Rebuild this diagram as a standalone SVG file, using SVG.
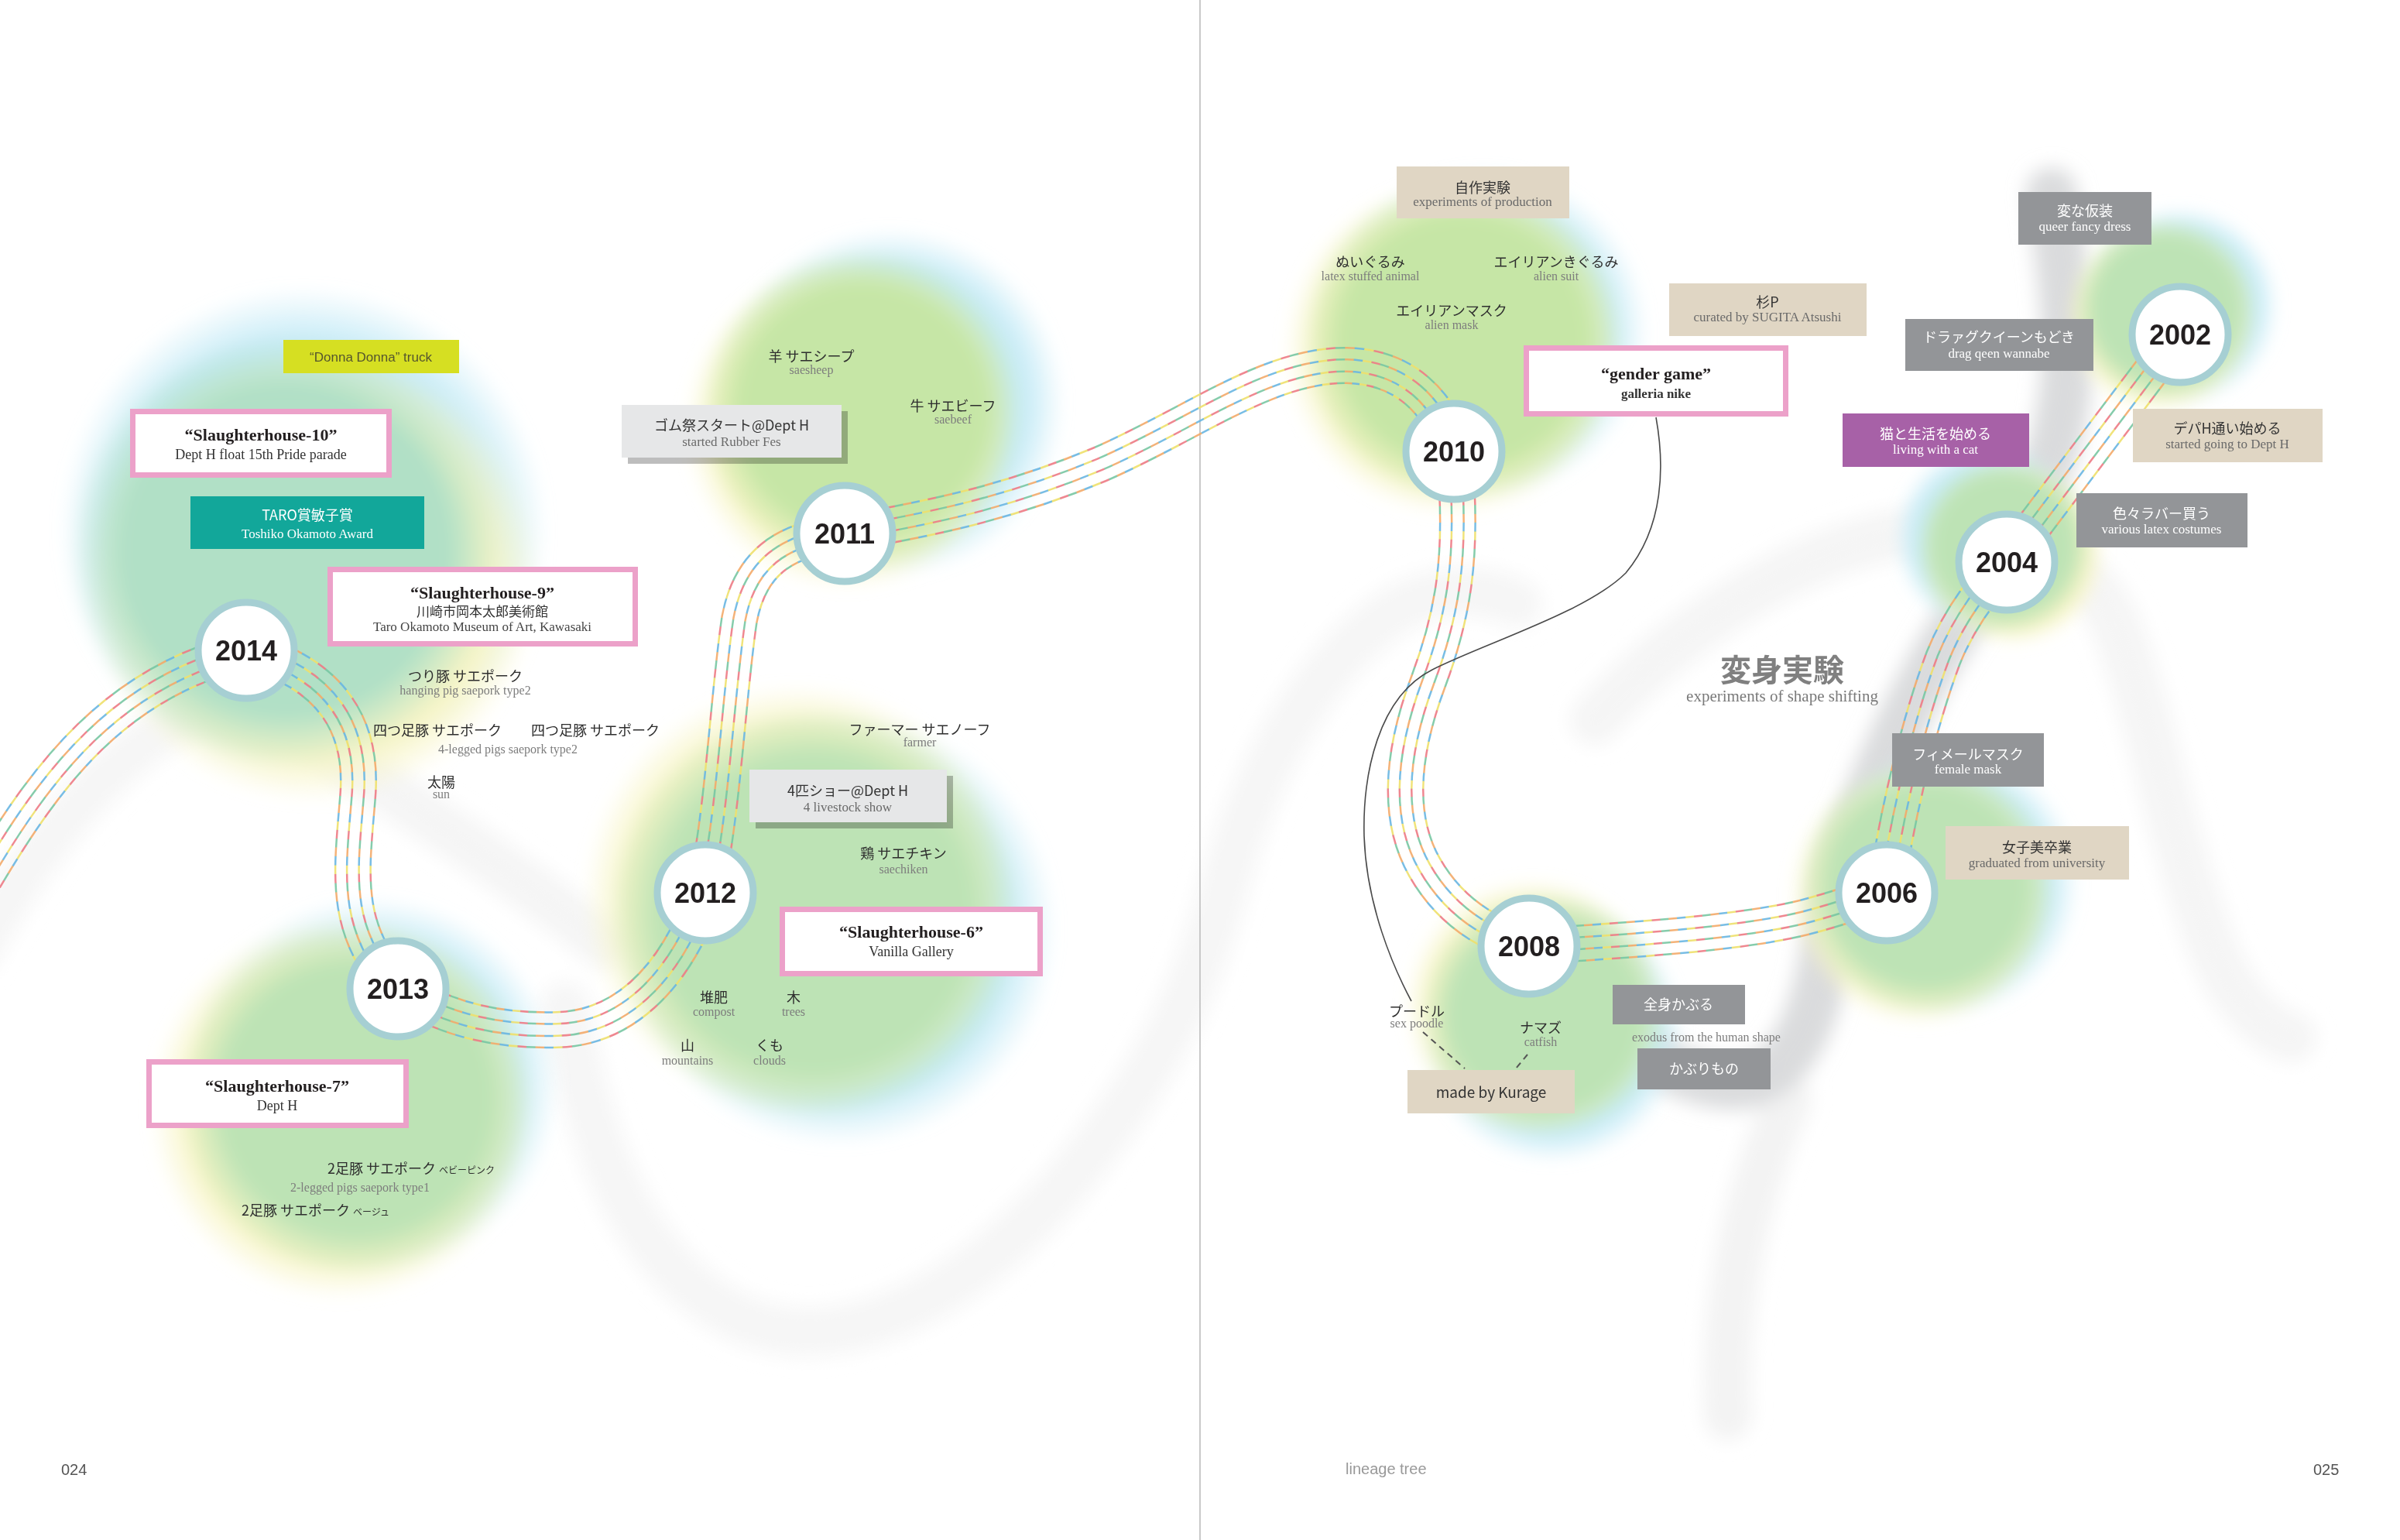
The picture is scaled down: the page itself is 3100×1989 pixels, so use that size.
<svg xmlns="http://www.w3.org/2000/svg" width="3100" height="1989" viewBox="0 0 3100 1989">
<defs>
<style>
.jp{font-family:"Noto Sans CJK JP",sans-serif}
.sf{font-family:"Liberation Serif",serif}
.ss{font-family:"Liberation Sans",Arial,sans-serif}
.c{text-anchor:middle}
.lj{font-size:18px;fill:#2e2e2e}
.le{font-size:16px;fill:#7d7d7d}
.bj{font-size:18px}
.be{font-size:17px}
.tt{font-size:22px;font-weight:bold;fill:#231f20}
.st{font-size:18px;fill:#333}
.yr{font-family:"Liberation Sans",Arial,sans-serif;font-weight:bold;font-size:36px;fill:#231f20;text-anchor:middle}
.ring{fill:#fff;stroke:#a6cfd3;stroke-width:9}
.pink{fill:#fff;stroke:#eca1c9;stroke-width:7}
.lg{fill:#e6e7e8}
.shd{fill:#000;fill-opacity:0.26}
.bg{fill:#e0d6c4}
.gr{fill:#939598}
.dk{fill:#333}
.gy{fill:#6a6a6a}
.wh{fill:#fff}
.sw{fill:none;stroke-linecap:round}
</style>
<radialGradient id="gB"><stop offset="0" stop-color="#c9ecf7"/><stop offset="0.78" stop-color="#c9ecf7"/><stop offset="1" stop-color="#c9ecf7" stop-opacity="0"/></radialGradient>
<radialGradient id="gY"><stop offset="0" stop-color="#f8f5c6"/><stop offset="0.78" stop-color="#f8f5c6"/><stop offset="1" stop-color="#f8f5c6" stop-opacity="0"/></radialGradient>
<radialGradient id="gM"><stop offset="0" stop-color="#b1e0c6"/><stop offset="0.75" stop-color="#b1e0c6"/><stop offset="1" stop-color="#b1e0c6" stop-opacity="0"/></radialGradient>
<radialGradient id="gL"><stop offset="0" stop-color="#c6e6a6"/><stop offset="0.75" stop-color="#c6e6a6"/><stop offset="1" stop-color="#c6e6a6" stop-opacity="0"/></radialGradient>
<radialGradient id="gG"><stop offset="0" stop-color="#bde3b5"/><stop offset="0.75" stop-color="#bde3b5"/><stop offset="1" stop-color="#bde3b5" stop-opacity="0"/></radialGradient>
<filter id="soft" x="-20%" y="-20%" width="140%" height="140%"><feGaussianBlur stdDeviation="9"/></filter>
<filter id="blur" x="-20%" y="-20%" width="140%" height="140%"><feGaussianBlur stdDeviation="12"/></filter>
<path id="route" fill="none" d="M -20,1135 C 60,1000 150,880 318,840 C 430,870 470,940 462,1030 C 455,1120 440,1200 514,1277 C 580,1320 650,1332 720,1330 C 800,1328 870,1270 911,1153 C 935,1040 940,900 955,800 C 968,730 1010,695 1091,689 C 1200,670 1300,650 1420,600 C 1540,548 1640,470 1740,472 C 1815,474 1860,520 1878,583 C 1892,720 1875,800 1845,880 C 1815,960 1800,1050 1840,1120 C 1880,1190 1940,1212 1976,1222 C 2100,1215 2250,1205 2330,1185 C 2380,1172 2410,1160 2436,1153 C 2450,1050 2480,930 2510,850 C 2530,800 2560,760 2592,726 L 2815,431"/>
<mask id="four" maskUnits="userSpaceOnUse" x="-50" y="0" width="3200" height="1989">
<use href="#route" stroke="#fff" stroke-width="48" stroke-linejoin="round"/>
<use href="#route" stroke="#000" stroke-width="43" stroke-linejoin="round"/>
<use href="#route" stroke="#fff" stroke-width="18" stroke-linejoin="round"/>
<use href="#route" stroke="#000" stroke-width="13" stroke-linejoin="round"/>
</mask>
</defs>
<rect x="0" y="0" width="3100" height="1989" fill="#fff"/>

<!-- soft grey swooshes -->
<g id="swooshes" filter="url(#blur)" style="mix-blend-mode:multiply">
<path class="sw" stroke="#f6f6f6" stroke-width="60" d="M -30,1230 C 40,1100 130,990 230,930"/>
<path class="sw" stroke="#f5f5f5" stroke-width="62" d="M 420,960 C 520,1040 660,1120 780,1220"/>
<path class="sw" stroke="#f6f6f6" stroke-width="64" d="M 730,1300 C 760,1450 800,1620 950,1700 C 1100,1770 1280,1650 1400,1500 C 1480,1400 1540,1300 1580,1150 C 1610,1030 1680,870 1800,790 C 1860,755 1920,760 1960,780"/>
<path class="sw" stroke="#f5f5f5" stroke-width="64" d="M 2060,930 C 2150,830 2300,720 2450,690 C 2560,670 2680,700 2730,800 C 2780,920 2800,1080 2860,1230 C 2890,1300 2930,1330 2960,1340"/>
<path class="sw" stroke="#f3f3f3" stroke-width="60" d="M 2232,1830 C 2225,1700 2250,1550 2310,1420"/>
<path class="sw" stroke="#dadbdd" stroke-width="66" d="M 2650,250 C 2670,380 2680,480 2655,570 C 2625,680 2540,780 2490,870 C 2430,980 2380,1100 2360,1220 C 2345,1320 2310,1400 2240,1400 C 2160,1400 2080,1330 2010,1270"/>
</g>

<!-- colour clouds -->
<g id="clouds" filter="url(#soft)">
<g id="blob-2014"><circle cx="392" cy="685" r="315" fill="url(#gB)"/><circle cx="405" cy="745" r="292" fill="url(#gY)"/><circle cx="370" cy="712" r="278" fill="url(#gM)"/></g>
<g id="blob-2013"><circle cx="480" cy="1400" r="242" fill="url(#gB)"/><circle cx="440" cy="1432" r="247" fill="url(#gY)"/><circle cx="460" cy="1420" r="228" fill="url(#gG)"/></g>
<g id="blob-2011"><circle cx="1150" cy="520" r="225" fill="url(#gB)"/><circle cx="1095" cy="550" r="212" fill="url(#gY)"/><circle cx="1114" cy="530" r="208" fill="url(#gL)"/></g>
<g id="blob-2012"><circle cx="1085" cy="1200" r="280" fill="url(#gB)"/><circle cx="1030" cy="1160" r="277" fill="url(#gY)"/><circle cx="1052" cy="1180" r="266" fill="url(#gG)"/></g>
<g id="blob-2010"><circle cx="1915" cy="430" r="214" fill="url(#gB)"/><circle cx="1875" cy="450" r="217" fill="url(#gY)"/><circle cx="1890" cy="440" r="207" fill="url(#gL)"/></g>
<g id="blob-2008"><circle cx="2005" cy="1332" r="170" fill="url(#gB)"/><circle cx="1980" cy="1300" r="166" fill="url(#gY)"/><circle cx="1995" cy="1310" r="159" fill="url(#gG)"/></g>
<g id="blob-2006"><circle cx="2512" cy="1140" r="174" fill="url(#gB)"/><circle cx="2480" cy="1155" r="170" fill="url(#gY)"/><circle cx="2490" cy="1145" r="165" fill="url(#gG)"/></g>
<g id="blob-2004"><circle cx="2570" cy="695" r="124" fill="url(#gB)"/><circle cx="2600" cy="715" r="120" fill="url(#gY)"/><circle cx="2588" cy="705" r="115" fill="url(#gG)"/></g>
<g id="blob-2002"><circle cx="2815" cy="395" r="129" fill="url(#gB)"/><circle cx="2790" cy="410" r="124" fill="url(#gY)"/><circle cx="2797" cy="400" r="119" fill="url(#gG)"/></g>
</g>

<line x1="1550" y1="0" x2="1550" y2="1989" stroke="#c9c9c9" stroke-width="2"/>

<!-- connectors -->
<g id="connectors">
<g id="timeline" mask="url(#four)" fill="none" opacity="0.9">
<use href="#route" stroke="#78c7a3" stroke-width="60"/>
<use href="#route" stroke="#ee7b85" stroke-width="60" stroke-dasharray="11 44"/>
<use href="#route" stroke="#efe06c" stroke-width="60" stroke-dasharray="11 44" stroke-dashoffset="11"/>
<use href="#route" stroke="#6ab6e2" stroke-width="60" stroke-dasharray="11 44" stroke-dashoffset="22"/>
<use href="#route" stroke="#f3aa6a" stroke-width="60" stroke-dasharray="11 44" stroke-dashoffset="33"/>
</g>
<path id="curation-link" d="M 2139,539 C 2150,600 2150,680 2100,740 C 2050,790 1920,830 1850,865 C 1780,900 1760,1000 1762,1080 C 1765,1170 1800,1250 1823,1293" fill="none" stroke="#4a4a4a" stroke-width="1.6"/>
<line x1="1838" y1="1333" x2="1892" y2="1380" stroke="#555" stroke-width="2" stroke-dasharray="8 6"/>
<line x1="1973" y1="1362" x2="1958" y2="1380" stroke="#555" stroke-width="2" stroke-dasharray="8 6"/>
</g>

<!-- year nodes -->
<g id="node-2014"><circle class="ring" cx="318" cy="840" r="62"/><text class="yr" x="318" y="853">2014</text></g>
<g id="node-2013"><circle class="ring" cx="514" cy="1277" r="62"/><text class="yr" x="514" y="1290">2013</text></g>
<g id="node-2012"><circle class="ring" cx="911" cy="1153" r="62"/><text class="yr" x="911" y="1166">2012</text></g>
<g id="node-2011"><circle class="ring" cx="1091" cy="689" r="62"/><text class="yr" x="1091" y="702">2011</text></g>
<g id="node-2010"><circle class="ring" cx="1878" cy="583" r="62"/><text class="yr" x="1878" y="596">2010</text></g>
<g id="node-2008"><circle class="ring" cx="1975" cy="1222" r="62"/><text class="yr" x="1975" y="1235">2008</text></g>
<g id="node-2006"><circle class="ring" cx="2437" cy="1153" r="62"/><text class="yr" x="2437" y="1166">2006</text></g>
<g id="node-2004"><circle class="ring" cx="2592" cy="726" r="62"/><text class="yr" x="2592" y="739">2004</text></g>
<g id="node-2002"><circle class="ring" cx="2816" cy="432" r="62"/><text class="yr" x="2816" y="445">2002</text></g>

<!-- boxes -->
<g id="donna"><rect x="366" y="439" width="227" height="43" fill="#d6df22"/><text class="ss c" x="479" y="467" font-size="17" fill="#55552e">“Donna Donna” truck</text></g>
<g id="sh10"><rect class="pink" x="171.5" y="531.5" width="331" height="82"/><text class="sf c tt" x="337" y="569">“Slaughterhouse-10”</text><text class="sf c st" x="337" y="593">Dept H float 15th Pride parade</text></g>
<g id="taro"><rect x="246" y="641" width="302" height="68" fill="#12a79a"/><text class="jp c wh" x="397" y="672" font-size="18">TARO賞敏子賞</text><text class="sf c wh" x="397" y="695" font-size="17">Toshiko Okamoto Award</text></g>
<g id="sh9"><rect class="pink" x="426.5" y="735.5" width="394" height="96"/><text class="sf c tt" x="623" y="773">“Slaughterhouse-9”</text><text class="jp c" x="623" y="796" font-size="17" fill="#333">川崎市岡本太郎美術館</text><text class="sf c" x="623" y="815" font-size="17" fill="#444">Taro Okamoto Museum of Art, Kawasaki</text></g>
<g id="sh7"><rect class="pink" x="192.5" y="1371.5" width="332" height="82"/><text class="sf c tt" x="358" y="1410">“Slaughterhouse-7”</text><text class="sf c st" x="358" y="1434">Dept H</text></g>
<g id="rubber"><rect class="shd" x="811" y="531" width="284" height="68"/><rect class="lg" x="803" y="523" width="284" height="68"/><text class="jp c bj dk" x="945" y="556">ゴム祭スタート@Dept H</text><text class="sf c be gy" x="945" y="576">started Rubber Fes</text></g>
<g id="show"><rect class="shd" x="976" y="1002" width="255" height="68"/><rect class="lg" x="968" y="994" width="255" height="68"/><text class="jp c bj dk" x="1095" y="1028">4匹ショー@Dept H</text><text class="sf c be gy" x="1095" y="1048">4 livestock show</text></g>
<g id="sh6"><rect class="pink" x="1010.5" y="1174.5" width="333" height="83"/><text class="sf c tt" x="1177" y="1211">“Slaughterhouse-6”</text><text class="sf c st" x="1177" y="1235">Vanilla Gallery</text></g>
<g id="jisaku"><rect class="bg" x="1804" y="215" width="223" height="67"/><text class="jp c bj dk" x="1915" y="249">自作実験</text><text class="sf c be gy" x="1915" y="266">experiments of production</text></g>
<g id="sugip"><rect class="bg" x="2156" y="366" width="255" height="68"/><text class="jp c bj dk" x="2283" y="397">杉P</text><text class="sf c be gy" x="2283" y="415">curated by SUGITA Atsushi</text></g>
<g id="gender"><rect class="pink" x="1971.5" y="449.5" width="335" height="85"/><text class="sf c tt" x="2139" y="490">“gender game”</text><text class="sf c" x="2139" y="514" font-size="17" font-weight="bold" fill="#333">galleria nike</text></g>
<g id="kurage"><rect class="bg" x="1818" y="1382" width="216" height="56"/><text class="jp c dk" x="1926" y="1418" font-size="19">made by Kurage</text></g>
<g id="zenshin"><rect class="gr" x="2083" y="1272" width="171" height="51"/><text class="jp c bj wh" x="2168" y="1304">全身かぶる</text></g>
<g id="kaburi"><rect class="gr" x="2115" y="1354" width="172" height="53"/><text class="jp c bj wh" x="2201" y="1387">かぶりもの</text></g>
<g id="female"><rect class="gr" x="2444" y="947" width="196" height="69"/><text class="jp c bj wh" x="2542" y="981">フィメールマスク</text><text class="sf c be wh" x="2542" y="999">female mask</text></g>
<g id="joshibi"><rect class="bg" x="2513" y="1067" width="237" height="69"/><text class="jp c bj dk" x="2631" y="1101">女子美卒業</text><text class="sf c be gy" x="2631" y="1120">graduated from university</text></g>
<g id="cat"><rect x="2380" y="534" width="241" height="69" fill="#a761a7"/><text class="jp c bj wh" x="2500" y="567">猫と生活を始める</text><text class="sf c be wh" x="2500" y="586">living with a cat</text></g>
<g id="latex"><rect class="gr" x="2682" y="637" width="221" height="70"/><text class="jp c bj wh" x="2792" y="670">色々ラバー買う</text><text class="sf c be wh" x="2792" y="689">various latex costumes</text></g>
<g id="drag"><rect class="gr" x="2461" y="412" width="243" height="67"/><text class="jp c bj wh" x="2582" y="442">ドラァグクイーンもどき</text><text class="sf c be wh" x="2582" y="462">drag qeen wannabe</text></g>
<g id="queer"><rect class="gr" x="2607" y="248" width="172" height="68"/><text class="jp c bj wh" x="2693" y="279">変な仮装</text><text class="sf c be wh" x="2693" y="298">queer fancy dress</text></g>
<g id="depah"><rect class="bg" x="2755" y="528" width="245" height="69"/><text class="jp c bj dk" x="2877" y="560">デパH通い始める</text><text class="sf c be gy" x="2877" y="579">started going to Dept H</text></g>

<!-- free labels -->
<g id="labels">
<text class="jp c lj" x="601" y="880">つり豚 サエポーク</text><text class="sf c le" x="601" y="897">hanging pig saepork type2</text>
<text class="jp c lj" x="565" y="950">四つ足豚 サエポーク</text><text class="jp c lj" x="769" y="950">四つ足豚 サエポーク</text>
<text class="sf c le" x="656" y="973">4-legged pigs saepork type2</text>
<text class="jp c lj" x="570" y="1017">太陽</text><text class="sf c le" x="570" y="1031">sun</text>
<text class="jp lj" x="423" y="1516">2足豚 サエポーク <tspan font-size="12">ベビーピンク</tspan></text>
<text class="sf c le" x="465" y="1539">2-legged pigs saepork type1</text>
<text class="jp lj" x="312" y="1570">2足豚 サエポーク <tspan font-size="12">ベージュ</tspan></text>
<text class="jp c lj" x="1048" y="467">羊 サエシープ</text><text class="sf c le" x="1048" y="483">saesheep</text>
<text class="jp c lj" x="1231" y="531">牛 サエビーフ</text><text class="sf c le" x="1231" y="547">saebeef</text>
<text class="jp c lj" x="1188" y="949">ファーマー サエノーフ</text><text class="sf c le" x="1188" y="964">farmer</text>
<text class="jp c lj" x="1167" y="1109">鶏 サエチキン</text><text class="sf c le" x="1167" y="1128">saechiken</text>
<text class="jp c lj" x="922" y="1295">堆肥</text><text class="sf c le" x="922" y="1312">compost</text>
<text class="jp c lj" x="1025" y="1295">木</text><text class="sf c le" x="1025" y="1312">trees</text>
<text class="jp c lj" x="888" y="1357">山</text><text class="sf c le" x="888" y="1375">mountains</text>
<text class="jp c lj" x="994" y="1357">くも</text><text class="sf c le" x="994" y="1375">clouds</text>
<text class="jp c lj" x="1770" y="345">ぬいぐるみ</text><text class="sf c le" x="1770" y="362">latex stuffed animal</text>
<text class="jp c lj" x="2010" y="345">エイリアンきぐるみ</text><text class="sf c le" x="2010" y="362">alien suit</text>
<text class="jp c lj" x="1875" y="408">エイリアンマスク</text><text class="sf c le" x="1875" y="425">alien mask</text>
<text class="jp c lj" x="1830" y="1313">プードル</text><text class="sf c le" x="1830" y="1327">sex poodle</text>
<text class="jp c lj" x="1990" y="1334">ナマズ</text><text class="sf c le" x="1990" y="1351">catfish</text>
<text class="sf c le" x="2204" y="1345">exodus from the human shape</text>
<text class="jp c" x="2302" y="880" font-size="40" font-weight="bold" fill="#808080">変身実験</text>
<text class="sf c" x="2302" y="906" font-size="21" fill="#7a7a7a">experiments of shape shifting</text>
</g>

<g id="footer">
<text class="ss" x="79" y="1905" font-size="20" fill="#555">024</text>
<text class="ss" x="1738" y="1904" font-size="20" fill="#999">lineage tree</text>
<text class="ss" x="2988" y="1905" font-size="20" fill="#555">025</text>
</g>
</svg>
